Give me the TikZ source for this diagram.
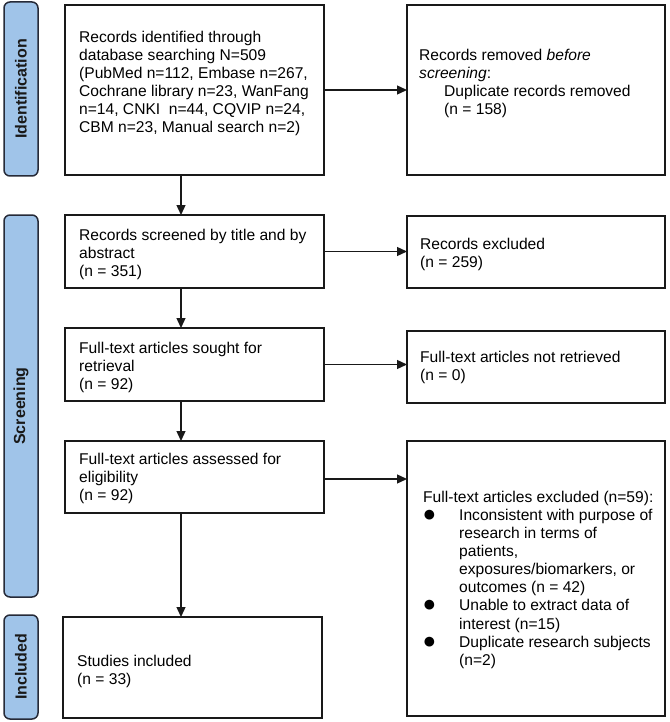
\documentclass[tikz,border=0pt]{standalone}
\usepackage{fontspec}
\setmainfont{Liberation Sans}
\usetikzlibrary{arrows.meta}
\definecolor{barfill}{RGB}{160,196,233}
\definecolor{barline}{RGB}{38,42,56}
\definecolor{lineclr}{RGB}{25,25,25}
\newcommand\blt{\makebox[36pt][l]{\hspace*{-0.5pt}\raisebox{-1pt}{\scalebox{1.45}{●}}}}
\newcommand\ind{\hspace*{36pt}}
\begin{document}
\begin{tikzpicture}[x=1pt,y=-1pt,
  box/.style={draw=lineclr,line width=1.8pt,anchor=north west,inner sep=0pt,outer sep=0pt},
  bar/.style={draw=barline,fill=barfill,line width=1.5pt,rounded corners=6pt,anchor=north west,inner sep=0pt,outer sep=0pt,minimum width=34pt},
  bartext/.style={rotate=90,font=\fontsize{16}{19}\selectfont\bfseries,text=black!90,inner sep=0pt},
  txt/.style={anchor=north west,align=left,inner sep=0pt,font=\fontsize{15.6}{18.1}\selectfont},
  arr/.style={draw=lineclr,line width=1.3pt,-{Triangle[length=10pt,width=9pt]}}
]
\useasboundingbox[fill=white] (0,0) rectangle (669,722);

% phase bars
\node[bar,minimum height=174pt] (bid) at (4,2) {};
\node[bartext] (bidt) at (bid.center) {Identification};
\node[bar,minimum height=382pt] (bsc) at (4,215) {};
\node[bartext] (bsct) at (bsc.center) {Screening};
\node[bar,minimum height=104pt] (bin) at (4,615) {};
\node[bartext] (bint) at (bin.center) {Included};

% boxes
\node[box,minimum width=259pt,minimum height=170pt] (id) at (65,5) {};
\node[box,minimum width=258pt,minimum height=170pt] (rem) at (407,5) {};
\node[box,minimum width=259pt,minimum height=73pt] (scr) at (65,215) {};
\node[box,minimum width=258pt,minimum height=72pt] (exc) at (407,216) {};
\node[box,minimum width=259pt,minimum height=73pt] (sou) at (65,328) {};
\node[box,minimum width=258pt,minimum height=72pt] (nre) at (407,331) {};
\node[box,minimum width=259pt,minimum height=72pt] (ass) at (65,441) {};
\node[box,minimum width=258pt,minimum height=275pt] (exf) at (407,441) {};
\node[box,minimum width=259pt,minimum height=101pt] (inc) at (63,617) {};

% texts
\node[txt] (idt) at (79,29.5) {\strut Records identified through\\database searching N=509\\(PubMed n=112, Embase n=267,\\Cochrane library n=23, WanFang\\n=14, CNKI\ \ n=44, CQVIP n=24,\\CBM n=23, Manual search n=2)};
\node[txt] (remt) at (419,47.5) {\strut Records removed \textit{before}\\\textit{screening}:\\\hspace*{25pt}Duplicate records removed\\\hspace*{25pt}(n = 158)};
\node[txt] (scrt) at (79,227.5) {\strut Records screened by title and by\\abstract\\(n = 351)};
\node[txt] (exct) at (420,236.5) {\strut Records excluded\\(n = 259)};
\node[txt] (sout) at (79,340.5) {\strut Full-text articles sought for\\retrieval\\(n = 92)};
\node[txt] (nret) at (420,349.5) {\strut Full-text articles not retrieved\\(n = 0)};
\node[txt] (asst) at (79,451.5) {\strut Full-text articles assessed for\\eligibility\\(n = 92)};
\node[txt] (exft) at (423,489.5) {\strut Full-text articles excluded (n=59):\\\blt Inconsistent with purpose of\\\ind research in terms of\\\ind patients,\\\ind exposures/biomarkers, or\\\ind outcomes (n = 42)\\\blt Unable to extract data of\\\ind interest (n=15)\\\blt Duplicate research subjects\\\ind (n=2)};
\node[txt] (inct) at (77,653.5) {\strut Studies included\\(n = 33)};

% connectors
\coordinate (ax) at (181,0);
\draw[arr] (id.south -| ax) -- (scr.north -| ax);
\draw[arr] (scr.south -| ax) -- (sou.north -| ax);
\draw[arr] (sou.south -| ax) -- (ass.north -| ax);
\draw[arr] (ass.south -| ax) -- (inc.north -| ax);
\draw[arr] (id.east) -- (id.east -| rem.west);
\draw[arr] (scr.east) -- (scr.east -| exc.west);
\draw[arr] (sou.east) -- (sou.east -| nre.west);
\draw[arr] ([yshift=-2pt]ass.east) -- ([yshift=-2pt]ass.east -| exf.west);
\end{tikzpicture}
\end{document}
